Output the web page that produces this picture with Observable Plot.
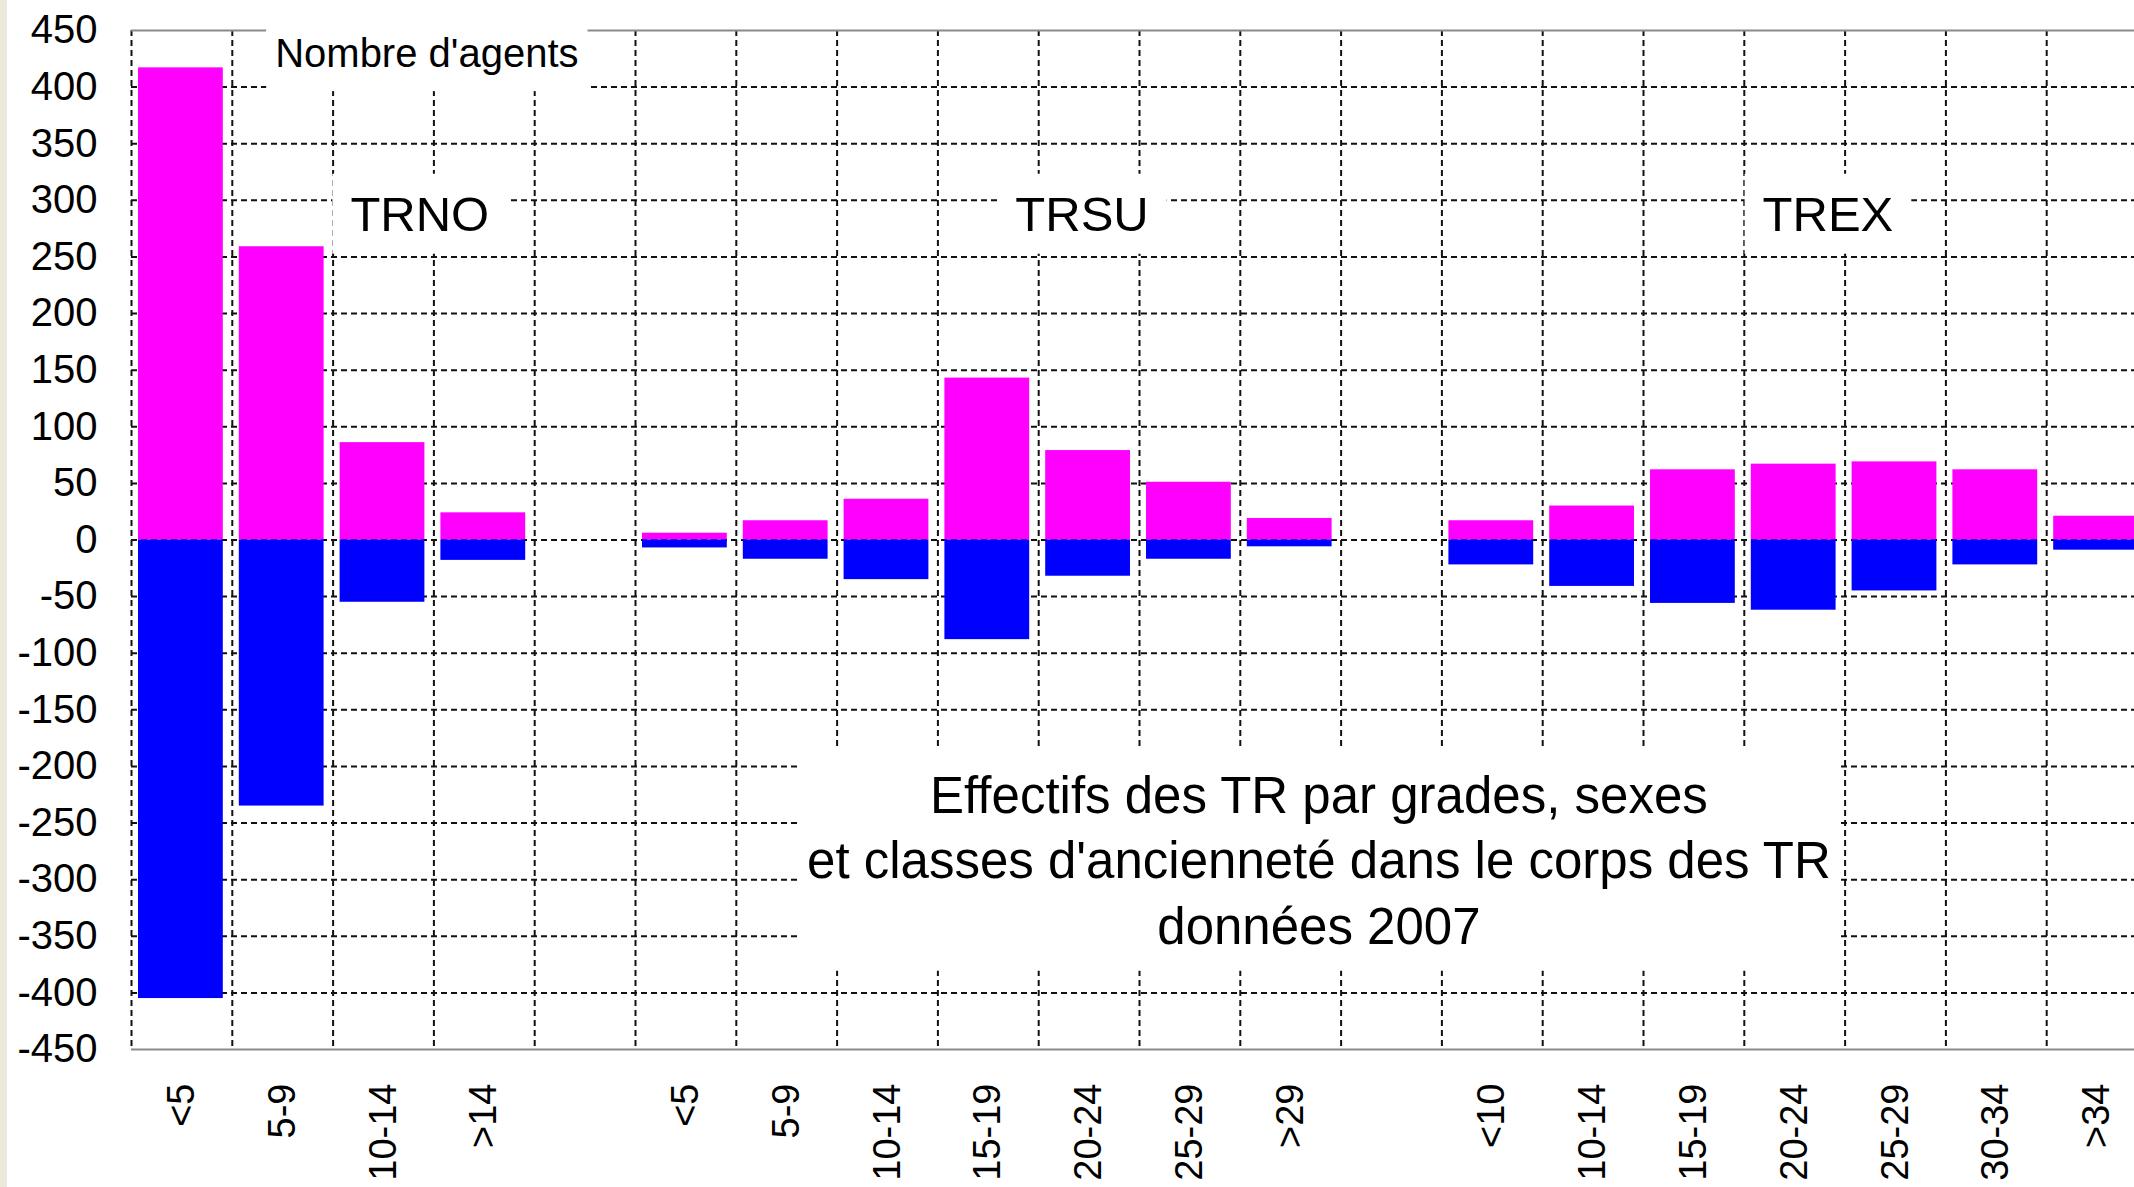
<!DOCTYPE html>
<html><head><meta charset="utf-8">
<script src="https://cdn.jsdelivr.net/npm/d3@7"></script>
<script src="https://cdn.jsdelivr.net/npm/@observablehq/plot@0.6"></script>
<style>
html,body{margin:0;padding:0;background:#fff;overflow:hidden;width:2134px;height:1187px;}
#chart{position:absolute;left:0;top:0;}
#strip{position:absolute;left:0;top:0;width:7px;height:1187px;background:#ECE9D8;z-index:2;}
</style></head>
<body><div id="chart"></div><div id="strip"></div>
<script>
// ---- data ----
const groups = ["TRNO", "TRSU", "TREX"];
const classesTRNO = ["<5", "5-9", "10-14", ">14"];
const classesTRSU = ["<5", "5-9", "10-14", "15-19", "20-24", "25-29", ">29"];
const classesTREX = ["<10", "10-14", "15-19", "20-24", "25-29", "30-34", ">34"];
const femmesTRNO = [417, 259, 86, 24];
const hommesTRNO = [-405, -235, -55, -18];
const femmesTRSU = [6, 17, 36, 143, 79, 51, 19];
const hommesTRSU = [-7, -17, -35, -88, -32, -17, -6];
const femmesTREX = [17, 30, 62, 67, 69, 62, 21];
const hommesTREX = [-22, -41, -56, -62, -45, -22, -9];
const yTicks = d3.range(-450, 451, 50);
const yLabel = "Nombre d'agents";
const titre = "Effectifs des TR par grades, sexes\net classes d'ancienneté dans le corps des TR\ndonnées 2007";

// ---- build table (one empty slot between grades) ----
const defs = [[classesTRNO, femmesTRNO, hommesTRNO], [classesTRSU, femmesTRSU, hommesTRSU], [classesTREX, femmesTREX, hommesTREX]];
const rows = [];
let slot = 0;
defs.forEach(([cls, f, h], g) => {
  cls.forEach((c, k) => rows.push({grade: groups[g], classe: c, slot: slot + k, femmes: f[k], hommes: h[k]}));
  slot += cls.length;
  if (g < defs.length - 1) slot += 1;
});
const nSlots = slot;
const labelAt = new Map(rows.map(d => [d.slot + 0.5, d.classe]));

const font = "'Liberation Sans', Arial, sans-serif";
const grid = {stroke: "#111", strokeWidth: 2, strokeDasharray: "6,4"};

const svg = Plot.plot({
  width: 2147, height: 1187,
  marginLeft: 131, marginRight: 0, marginTop: 30, marginBottom: 138,
  style: {fontFamily: font, background: "white", maxWidth: "none", color: "black"},
  x: {type: "linear", domain: [0, nSlots]},
  y: {domain: [-450, 450]},
  marks: [
    Plot.ruleY(yTicks.filter(v => Math.abs(v) < 450), grid),
    Plot.ruleX(d3.range(0, nSlots + 1), grid),
    Plot.ruleY([-450, 450], {stroke: "#8a8a8a", strokeWidth: 2}),
    Plot.rectY(rows, {x1: "slot", x2: d => d.slot + 1, y1: 0, y2: "femmes", fill: "#FF00FF", insetLeft: 7, insetRight: 9}),
    Plot.rectY(rows, {x1: "slot", x2: d => d.slot + 1, y1: 0, y2: "hommes", fill: "#0000FF", insetLeft: 7, insetRight: 9}),
    Plot.axisY(yTicks, {tickSize: 0, tickPadding: 34, fontSize: 40, tickFormat: d => String(d), label: null}),
    Plot.axisX(rows.map(d => d.slot + 0.5), {tickSize: 0, tickPadding: 34, tickRotate: -90, fontSize: 38, tickFormat: v => labelAt.get(v), label: null}),
    Plot.text([yLabel], {x: 2.93, y: 429, text: d => d, fontSize: 40, fill: "black"}),
    Plot.text(groups, {x: (d, i) => [2.86, 9.43, 16.83][i], y: 287, text: d => d, fontSize: 49, fill: "black"}),
    Plot.text([titre], {x: 11.78, y: -280.5, text: d => d, fontSize: 51, lineHeight: 1.28, fill: "black"})
  ]
});
document.getElementById("chart").appendChild(svg);

// white label boxes behind the annotation texts
const pads = [
  [yLabel, 9, 22, 16],
  ["TRNO", 18, 13, 13], ["TRSU", 18, 13, 13], ["TREX", 18, 13, 13],
  [titre.replace(/\n/g, ""), 8, 20, 16]
];
svg.querySelectorAll("text").forEach(t => {
  const p = pads.find(p => p[0] === t.textContent);
  if (!p) return;
  const b = t.getBBox();
  const r = document.createElementNS("http://www.w3.org/2000/svg", "rect");
  r.setAttribute("x", b.x - p[1]);
  r.setAttribute("y", b.y - p[2]);
  r.setAttribute("width", b.width + 2 * p[1]);
  r.setAttribute("height", b.height + p[2] + p[3]);
  r.setAttribute("fill", "white");
  r.setAttribute("stroke", "none");
  const tr = t.getAttribute("transform");
  if (tr) r.setAttribute("transform", tr);
  t.parentNode.insertBefore(r, t);
});
</script></body></html>
